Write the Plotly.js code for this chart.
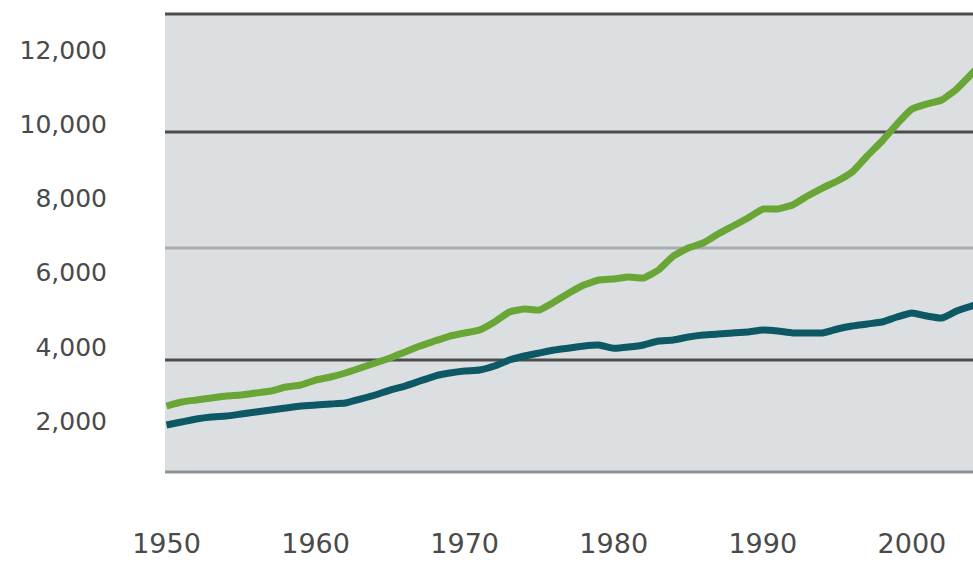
<!DOCTYPE html>
<html>
<head>
<meta charset="utf-8">
<script src="https://cdn.plot.ly/plotly-3.0.1.min.js"></script>
<style>
html,body{margin:0;padding:0;background:#fff;}
#chart{width:973px;height:566px;}
</style>
</head>
<body>
<div id="chart"></div>
<script>
// Years
const years = [1950,1951,1952,1953,1954,1955,1956,1957,1958,1959,
               1960,1961,1962,1963,1964,1965,1966,1967,1968,1969,
               1970,1971,1972,1973,1974,1975,1976,1977,1978,1979,
               1980,1981,1982,1983,1984,1985,1986,1987,1988,1989,
               1990,1991,1992,1993,1994,1995,1996,1997,1998,1999,
               2000,2001,2002,2003,2004,2005];

// Upper (green) series
const greenSeries = [2404,2512,2566,2620,2674,2701,2755,2809,2916,2970,
                     3105,3186,3294,3428,3563,3698,3860,4021,4156,4291,
                     4372,4452,4668,4938,5018,4991,5207,5450,5665,5800,
                     5827,5881,5854,6069,6447,6662,6797,7040,7255,7471,
                     7713,7713,7821,8064,8279,8468,8711,9142,9546,10004,
                     10408,10543,10651,10947,11352,11783];

// Lower (teal) series
const tealSeries = [1892,1973,2054,2108,2135,2189,2243,2296,2350,2404,
                    2431,2458,2485,2593,2701,2835,2943,3078,3213,3294,
                    3348,3374,3482,3644,3752,3833,3913,3967,4021,4048,
                    3960,3994,4048,4156,4183,4264,4318,4345,4372,4399,
                    4452,4425,4372,4372,4372,4479,4560,4614,4668,4803,
                    4911,4830,4776,4964,5099,5180];

// Tick labels
const xTickVals = [1950,1960,1970,1980,1990,2000];
const xTickText = ['1950','1960','1970','1980','1990','2000'];
const yTickVals = [2000,4000,6000,8000,10000,12000];
const yTickText = ['2,000','4,000','6,000','8,000','10,000','12,000'];

// Horizontal rule positions (value units) as drawn in the reference
const innerRules = [3644, 6662, 9789];
const innerRuleColors = ['#4d4d4d', '#a9abad', '#4d4d4d'];

const traces = [
  {x: years, y: greenSeries, type: 'scatter', mode: 'lines',
   line: {color: '#6aa636', width: 7, shape: 'spline', smoothing: 0.4}, hoverinfo: 'skip'},
  {x: years, y: tealSeries, type: 'scatter', mode: 'lines',
   line: {color: '#0d5865', width: 7, shape: 'spline', smoothing: 0.4}, hoverinfo: 'skip'}
];

const shapes = innerRules.map((v, i) => ({
  type: 'line', xref: 'paper', yref: 'y', x0: 0, x1: 1, y0: v, y1: v,
  line: {color: innerRuleColors[i], width: 3}, layer: 'below'
}));
shapes.push({type: 'line', xref: 'paper', yref: 'paper', x0: 0, x1: 1, y0: 1, y1: 1,
             line: {color: '#4d4d4d', width: 3}, layer: 'above'});
shapes.push({type: 'line', xref: 'paper', yref: 'paper', x0: 0, x1: 1, y0: 0, y1: 0,
             line: {color: '#8f9193', width: 3}, layer: 'above'});

const layout = {
  width: 973, height: 566,
  margin: {l: 165, r: 0, t: 14, b: 94},
  paper_bgcolor: '#ffffff',
  plot_bgcolor: '#dcdfe1',
  showlegend: false,
  xaxis: {
    range: [1949.9, 2004.1],
    tickvals: xTickVals, ticktext: xTickText,
    showgrid: false, zeroline: false, showline: false,
    ticks: 'outside', ticklen: 48, tickcolor: 'rgba(0,0,0,0)',
    tickfont: {family: 'DejaVu Sans', size: 27, color: '#4a4a4a'},
    fixedrange: true
  },
  yaxis: {
    range: [626, 12969],
    tickvals: yTickVals, ticktext: yTickText,
    showgrid: false, zeroline: false, showline: false,
    ticks: 'outside', ticklen: 52, tickcolor: 'rgba(0,0,0,0)',
    tickfont: {family: 'DejaVu Sans', size: 25, color: '#4a4a4a'},
    fixedrange: true
  },
  shapes: shapes
};

Plotly.newPlot('chart', traces, layout, {displayModeBar: false, staticPlot: true});
</script>
</body>
</html>
